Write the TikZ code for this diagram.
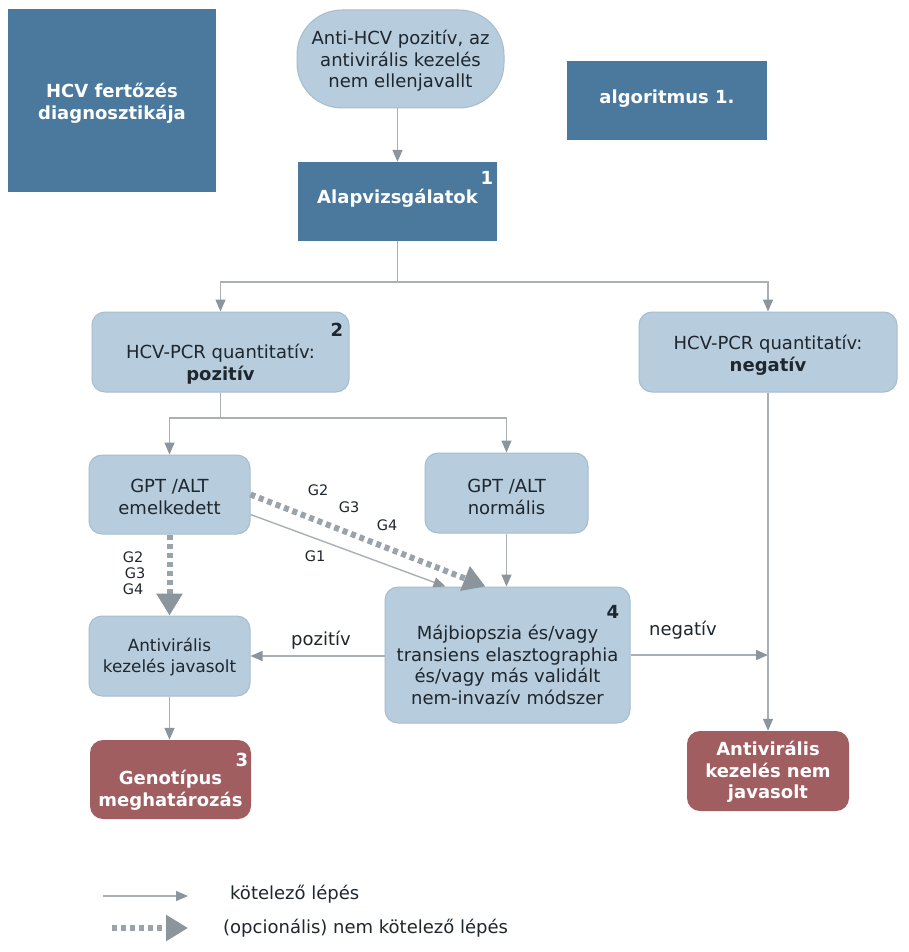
\documentclass[tikz,border=0pt]{standalone}
\usepackage{fontspec}
\setmainfont{DejaVu Sans}
\usetikzlibrary{arrows.meta,calc}
\definecolor{dblue}{HTML}{4A799D}
\definecolor{lblue}{HTML}{B7CCDC}
\definecolor{lbord}{HTML}{A6BDCF}
\definecolor{dred}{HTML}{A05E60}
\definecolor{lgray}{HTML}{A9AFB5}
\definecolor{agray}{HTML}{8C949C}
\definecolor{dgray}{HTML}{9AA2AA}
\definecolor{txt}{HTML}{1E262E}
\begin{document}
\begin{tikzpicture}[x=1pt,y=-1pt,
  every node/.style={font=\fontsize{18}{21.5}\selectfont,text=txt},
  dbox/.style={fill=dblue,draw=none,inner sep=0pt},
  lbox/.style={fill=lblue,draw=lbord,line width=1pt,rounded corners=13pt,inner sep=0pt},
  rbox/.style={fill=dred,draw=none,rounded corners=13pt,inner sep=0pt},
  btext/.style={align=center,inner sep=0pt},
  wtext/.style={align=center,inner sep=0pt,text=white,font=\fontsize{18}{21.5}\selectfont\bfseries},
  num/.style={font=\fontsize{18}{21}\selectfont\bfseries,inner sep=0pt},
  glab/.style={font=\fontsize{14.5}{17}\selectfont,inner sep=0pt},
  lab/.style={inner sep=0pt},
  conn/.style={draw=lgray,line width=1.4pt,-{Triangle[length=12pt,width=10pt,color=agray]}},
  plain/.style={draw=lgray,line width=1.4pt},
  opt/.style={draw=dgray,line width=6pt,dash pattern=on 5pt off 4pt,-{Triangle[length=22pt,width=25pt,color=agray]}}
]
\fill[white] (0,0) rectangle (908,952);

% header boxes
\node[dbox,minimum width=208pt,minimum height=183pt] (title) at (112,100.5) {};
\node[wtext] (titleT) at (112,103) {HCV fertőzés\\diagnosztikája};
\node[lbox,rounded corners=45pt,minimum width=207pt,minimum height=98pt] (start) at (400.5,59) {};
\node[btext] (startT) at (400.5,61) {Anti-HCV pozitív, az\\antivirális kezelés\\nem ellenjavallt};
\node[dbox,minimum width=200pt,minimum height=79pt] (algo) at (667,100.5) {};
\node[wtext] (algoT) at (667,99) {algoritmus 1.};
\node[dbox,minimum width=199pt,minimum height=79pt] (alap) at (397.5,201.5) {};
\node[wtext] (alapT) at (397.5,198) {Alapvizsgálatok};
\node[num,text=white] (n1) at (487,178) {1};

% PCR boxes
\node[lbox,minimum width=257pt,minimum height=80pt] (pcrpos) at (220.5,352) {};
\node[btext] (pcrposT) at (220.5,364) {HCV-PCR quantitatív:\\\textbf{pozitív}};
\node[num] (n2) at (337,330) {2};
\node[lbox,minimum width=258pt,minimum height=80pt] (pcrneg) at (768,352) {};
\node[btext] (pcrnegT) at (768,355) {HCV-PCR quantitatív:\\\textbf{negatív}};

% GPT boxes
\node[lbox,minimum width=161pt,minimum height=79pt] (emel) at (169.5,494.5) {};
\node[btext] (emelT) at (169.5,497) {GPT /ALT\\emelkedett};
\node[lbox,minimum width=163pt,minimum height=80pt] (norm) at (506.5,493) {};
\node[btext] (normT) at (506.5,497) {GPT /ALT\\normális};

% lower boxes
\node[lbox,minimum width=245pt,minimum height=136pt] (maj) at (507.5,655) {};
\node[btext] (majT) at (507.5,665) {Májbiopszia és/vagy\\transiens elasztographia\\és/vagy más validált\\nem-invazív módszer};
\node[num] (n4) at (613,612) {4};
\node[lbox,minimum width=161pt,minimum height=80pt] (antijav) at (169.5,656) {};
\node[btext,font=\fontsize{16.8}{21}\selectfont] (antijavT) at (169.5,657) {Antivirális\\kezelés javasolt};
\node[rbox,minimum width=161pt,minimum height=79pt] (geno) at (170.5,779.5) {};
\node[wtext] (genoT) at (170.5,790) {Genotípus\\meghatározás};
\node[num,text=white] (n3) at (242,760) {3};
\node[rbox,minimum width=162pt,minimum height=80pt] (nemjav) at (768,771) {};
\node[wtext] (nemjavT) at (768,772) {Antivirális\\kezelés nem\\javasolt};

% connectors
\draw[conn] (start.south -| alap.north) -- (alap.north);
\coordinate (j1) at (397.5,282);
\draw[plain] (alap.south) -- (j1);
\draw[conn] (j1) -| (pcrpos.north);
\draw[conn] (j1) -| (pcrneg.north);
\coordinate (j2) at (220.5,418);
\draw[plain] (pcrpos.south) -- (j2);
\draw[conn] (j2) -| (emel.north);
\draw[conn] (j2) -| (norm.north);
\draw[conn] (norm.south) -- (norm.south |- maj.north);
\draw[opt] (emel.south) -- (antijav.north);
\draw[opt] (emel.east) -- ($(maj.north)+(-22,0)$);
\draw[conn] ($(emel.east)+(0,20)$) -- ($(maj.north)+(-62,0)$);
\draw[conn] (maj.west |- antijav.east) -- (antijav.east);
\coordinate (j3) at (768,655);
\draw[conn] (maj.east |- j3) -- (j3);
\draw[conn] (pcrneg.south) -- (nemjav.north);
\draw[conn] (antijav.south) -- (geno.north -| antijav.south);

% connector labels
\node[lab] (lpoz) at (321,640) {pozitív};
\node[lab] (lneg) at (683,630) {negatív};
\node[glab] (ga2) at (318,490) {G2};
\node[glab] (ga3) at (349,507) {G3};
\node[glab] (ga4) at (387,525) {G4};
\node[glab] (ga1) at (315,556) {G1};
\node[glab] (gb2) at (133,557) {G2};
\node[glab] (gb3) at (135,573) {G3};
\node[glab] (gb4) at (133,589) {G4};

% legend
\coordinate (la) at (103,896);
\coordinate (lb) at (188,896);
\coordinate (lc) at (112,928);
\coordinate (ld) at (188,928);
\draw[conn] (la) -- (lb);
\draw[opt] (lc) -- (ld);
\node[lab,anchor=west] (leg1) at (230,894) {kötelező lépés};
\node[lab,anchor=west] (leg2) at (223,928) {(opcionális) nem kötelező lépés};
\end{tikzpicture}
\end{document}
